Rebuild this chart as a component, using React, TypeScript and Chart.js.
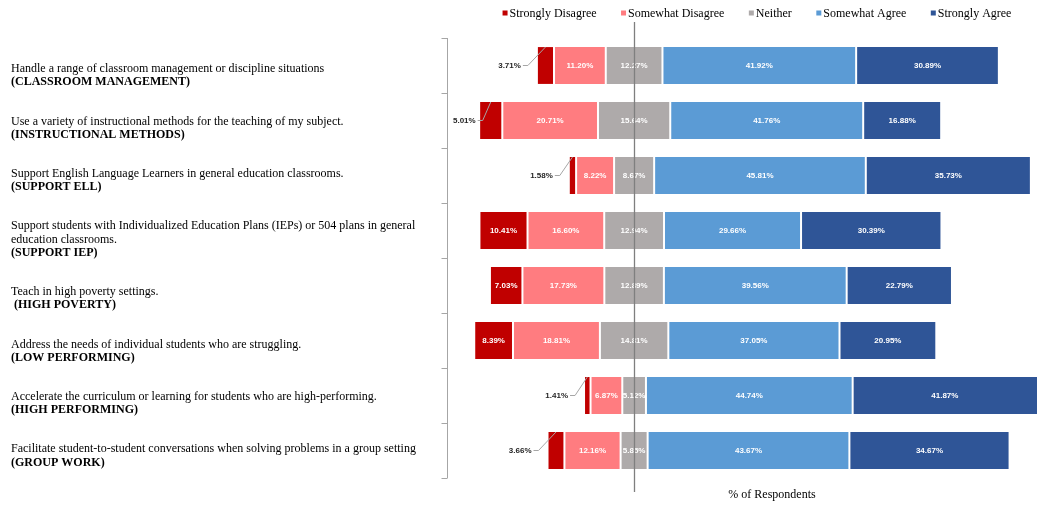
import React, { useEffect, useRef } from "react";
import { Chart, registerables } from "chart.js";

Chart.register(...registerables);

// ---------- DATA ----------
const categoryLines: string[][] = [
  ["Handle a range of classroom management or discipline situations"],
  ["Use a variety of instructional methods for the teaching of my subject."],
  ["Support English Language Learners in general education classrooms."],
  [
    "Support students with Individualized Education Plans (IEPs) or 504 plans in general",
    "education classrooms.",
  ],
  ["Teach in high poverty settings."],
  ["Address the needs of individual students who are struggling."],
  ["Accelerate the curriculum or learning for students who are high-performing."],
  ["Facilitate student-to-student conversations when solving problems in a group setting"],
];
const categoryTags: string[] = [
  "(CLASSROOM MANAGEMENT)",
  "(INSTRUCTIONAL METHODS)",
  "(SUPPORT ELL)",
  "(SUPPORT IEP)",
  " (HIGH POVERTY)",
  "(LOW PERFORMING)",
  "(HIGH PERFORMING)",
  "(GROUP WORK)",
];

const stronglyDisagree = [3.71, 5.01, 1.58, 10.41, 7.03, 8.39, 1.41, 3.66];
const somewhatDisagree = [11.2, 20.71, 8.22, 16.6, 17.73, 18.81, 6.87, 12.16];
const neither = [12.27, 15.64, 8.67, 12.94, 12.89, 14.81, 5.12, 5.85];
const somewhatAgree = [41.92, 41.76, 45.81, 29.66, 39.56, 37.05, 44.74, 43.67];
const stronglyAgree = [30.89, 16.88, 35.73, 30.39, 22.79, 20.95, 41.87, 34.67];

const seriesNames = ["Strongly Disagree", "Somewhat Disagree", "Neither", "Somewhat Agree", "Strongly Agree"];
const seriesValues = [stronglyDisagree, somewhatDisagree, neither, somewhatAgree, stronglyAgree];
const seriesColors = ["#C00000", "#FF7C80", "#AEAAAA", "#5B9BD5", "#2F5597"];

const axisTitle = "% of Respondents";

// ---------- STYLE ----------
const SERIF = '"Liberation Serif", "Times New Roman", serif';
const LABEL_FONT = 'bold 8px "Liberation Sans", Arial, sans-serif';

function buildRanges() {
  const n = stronglyDisagree.length;
  const out: [number, number][][] = seriesValues.map(() => []);
  for (let i = 0; i < n; i++) {
    const half = neither[i] / 2;
    const l0 = -(stronglyDisagree[i] + somewhatDisagree[i] + half);
    const l1 = l0 + stronglyDisagree[i];
    const l2 = l1 + somewhatDisagree[i];
    const r1 = half + somewhatAgree[i];
    const r2 = r1 + stronglyAgree[i];
    out[0].push([l0, l1]);
    out[1].push([l1, l2]);
    out[2].push([-half, half]);
    out[3].push([half, r1]);
    out[4].push([r1, r2]);
  }
  return out;
}

const overlayPlugin = {
  id: "overlay",
  afterDatasetsDraw(chart: any) {
    const ctx = chart.ctx as CanvasRenderingContext2D;
    const area = chart.chartArea;
    ctx.save();
    ctx.font = LABEL_FONT;
    ctx.textBaseline = "middle";
    chart.data.datasets.forEach((_ds: any, di: number) => {
      const meta = chart.getDatasetMeta(di);
      meta.data.forEach((bar: any, i: number) => {
        const v = seriesValues[di][i];
        const p = bar.getProps(["x", "y", "base", "height"], true);
        const left = Math.min(p.x, p.base);
        const right = Math.min(Math.max(p.x, p.base), area.right);
        const w = right - left;
        const text = v.toFixed(2) + "%";
        const tw = ctx.measureText(text).width;
        if (di === 0 && tw + 2 > w) {
          // outside label with leader line
          const labelRight = Math.max(left - 16, area.left + 6 + tw);
          ctx.fillStyle = "#262626";
          ctx.textAlign = "right";
          ctx.fillText(text, labelRight, p.y + 0.5);
          const top = p.y - p.height / 2;
          ctx.strokeStyle = "#A6A6A6";
          ctx.lineWidth = 1;
          ctx.beginPath();
          ctx.moveTo(labelRight + 2, p.y);
          ctx.lineTo(labelRight + 7, p.y);
          ctx.lineTo((left + right) / 2, top);
          ctx.stroke();
        } else {
          ctx.fillStyle = "#FFFFFF";
          ctx.textAlign = "center";
          ctx.fillText(text, (left + right) / 2, p.y + 0.5);
        }
      });
    });
    ctx.restore();
  },
  afterDraw(chart: any) {
    const ctx = chart.ctx as CanvasRenderingContext2D;
    const area = chart.chartArea;
    const xScale = chart.scales.x;
    const n = stronglyDisagree.length;
    ctx.save();

    // y axis line with tick marks at category boundaries
    ctx.strokeStyle = "#A6A6A6";
    ctx.lineWidth = 1;
    const ax = Math.round(area.left) + 0.5;
    ctx.beginPath();
    ctx.moveTo(ax, area.top);
    ctx.lineTo(ax, area.bottom);
    const step = (area.bottom - area.top) / n;
    for (let k = 0; k <= n; k++) {
      const yy = Math.round(area.top + k * step) + 0.5;
      ctx.moveTo(ax - 6, yy);
      ctx.lineTo(ax, yy);
    }
    ctx.stroke();

    // centre line at 0
    const cx = Math.round(xScale.getPixelForValue(0)) + 0.5;
    ctx.strokeStyle = "#7F7F7F";
    ctx.lineWidth = 1.3;
    ctx.beginPath();
    ctx.moveTo(cx, area.top - 16);
    ctx.lineTo(cx, area.bottom + 14);
    ctx.stroke();

    // category text (flowing paragraphs)
    ctx.fillStyle = "#000000";
    ctx.textAlign = "left";
    ctx.textBaseline = "middle";
    const lineH = 13.4;
    let yy = area.top + 31;
    for (let i = 0; i < n; i++) {
      ctx.font = `12px ${SERIF}`;
      categoryLines[i].forEach((ln) => {
        ctx.fillText(ln, 11, yy);
        yy += lineH;
      });
      ctx.font = `bold 12px ${SERIF}`;
      ctx.fillText(categoryTags[i], 11, yy);
      yy += 39;
    }

    // legend
    ctx.font = `12px ${SERIF}`;
    const sq = 5;
    const gapSqText = 2;
    const itemGap = 24.5;
    const widths = seriesNames.map((s) => sq + gapSqText + ctx.measureText(s).width);
    const total = widths.reduce((a, b) => a + b, 0) + itemGap * (widths.length - 1);
    let lx = (area.left + area.right) / 2 + 15 - total / 2;
    const ly = 13;
    seriesNames.forEach((s, k) => {
      ctx.fillStyle = seriesColors[k];
      ctx.fillRect(lx, ly - sq / 2, sq, sq);
      ctx.fillStyle = "#000000";
      ctx.fillText(s, lx + sq + gapSqText, ly + 0.5);
      lx += widths[k] + itemGap;
    });

    // axis title
    ctx.textAlign = "center";
    ctx.font = `12px ${SERIF}`;
    ctx.fillText(axisTitle, (area.left + area.right) / 2 + 30, area.bottom + 17);

    ctx.restore();
  },
};

export default function App() {
  const ref = useRef<HTMLCanvasElement | null>(null);
  useEffect(() => {
    const canvas = ref.current;
    if (!canvas) return;
    const ranges = buildRanges();
    const chart = new Chart(canvas, {
      type: "bar",
      data: {
        labels: categoryTags,
        datasets: seriesNames.map((name, k) => ({
          label: name,
          data: ranges[k] as any,
          backgroundColor: seriesColors[k],
          borderColor: "#FFFFFF",
          borderWidth: { left: 1, right: 1, top: 0, bottom: 0 },
          borderSkipped: false,
          grouped: false,
          barPercentage: 0.67,
          categoryPercentage: 1,
        })),
      },
      options: {
        indexAxis: "y",
        responsive: false,
        animation: false,
        devicePixelRatio: 1,
        layout: { padding: { left: 447, right: 7, top: 38, bottom: 28 } },
        scales: {
          x: { display: false, min: -40.5, max: 87.2 },
          y: { display: false },
        },
        plugins: {
          legend: { display: false },
          tooltip: { enabled: false },
          title: { display: false },
        },
      } as any,
      plugins: [overlayPlugin],
    });
    return () => chart.destroy();
  }, []);
  return (
    <div style={{ position: "absolute", left: 0, top: 0, width: 1044, height: 506, background: "#fff" }}>
      <canvas ref={ref} width={1044} height={506} style={{ display: "block" }} />
    </div>
  );
}
